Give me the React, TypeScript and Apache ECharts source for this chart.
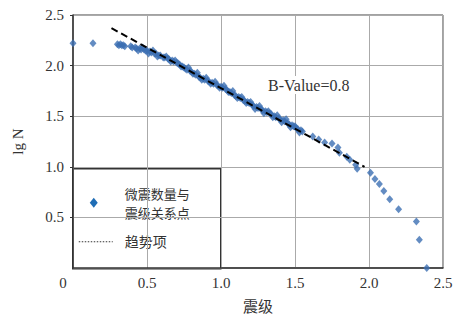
import React, { useEffect, useRef } from "react";
import * as echarts from "echarts";

// magnitude (震级) and lg N of micro-seismic points
const magnitudes: number[] = [
  0.0, 0.135,
  0.30, 0.31, 0.32, 0.33, 0.34, 0.35,
  0.39, 0.40, 0.42, 0.43, 0.45, 0.46, 0.48, 0.49, 0.50, 0.52, 0.53, 0.55,
  0.56, 0.58, 0.59, 0.61, 0.62, 0.64, 0.65, 0.67, 0.68, 0.70, 0.71, 0.72,
  0.74, 0.75, 0.76, 0.77, 0.79, 0.80, 0.82, 0.83, 0.85, 0.86, 0.88, 0.89,
  0.91, 0.92, 0.94, 0.95, 0.97, 0.98, 1.00, 1.01, 1.03, 1.04, 1.06, 1.07,
  1.09, 1.10, 1.12, 1.13, 1.15, 1.16, 1.18, 1.19, 1.21, 1.22, 1.24, 1.25,
  1.27, 1.28, 1.30, 1.31, 1.33, 1.34, 1.36, 1.37, 1.39, 1.40, 1.42, 1.43,
  1.45, 1.46, 1.48, 1.49, 1.51, 1.52, 1.54, 1.55,
  0.44, 0.51, 0.57, 0.66, 0.73, 0.81, 0.87, 0.93, 0.99, 1.05, 1.11, 1.17,
  1.23, 1.29, 1.35, 1.41, 1.47, 1.53,
  0.47, 0.54, 0.63, 0.69, 0.78, 0.84, 0.90, 0.96, 1.02, 1.08, 1.14, 1.20,
  1.26, 1.32, 1.38, 1.44, 1.50,
  1.62, 1.66, 1.70, 1.75, 1.79, 1.80, 1.85, 1.87, 1.91, 1.92,
  2.01, 2.04, 2.07, 2.10, 2.14, 2.20, 2.32, 2.34, 2.39,
];
const lgN: number[] = [
  2.22, 2.22,
  2.21, 2.20, 2.21, 2.20, 2.20, 2.19,
  2.19, 2.18, 2.18, 2.17, 2.17, 2.16, 2.16, 2.15, 2.15, 2.14, 2.13, 2.12,
  2.12, 2.10, 2.10, 2.08, 2.08, 2.07, 2.06, 2.05, 2.04, 2.03, 2.02, 2.01,
  1.99, 1.98, 1.97, 1.96, 1.95, 1.94, 1.92, 1.91, 1.89, 1.88, 1.87, 1.86,
  1.85, 1.84, 1.83, 1.82, 1.81, 1.80, 1.79, 1.78, 1.77, 1.76, 1.74, 1.73,
  1.71, 1.70, 1.69, 1.68, 1.66, 1.65, 1.64, 1.63, 1.61, 1.60, 1.59, 1.58,
  1.57, 1.56, 1.55, 1.54, 1.53, 1.52, 1.50, 1.49, 1.48, 1.47, 1.46, 1.45,
  1.43, 1.42, 1.41, 1.40, 1.38, 1.37, 1.36, 1.35,
  2.15, 2.12, 2.09, 2.04, 1.99, 1.92, 1.86, 1.82, 1.78, 1.74, 1.68, 1.63,
  1.57, 1.53, 1.49, 1.44, 1.39, 1.34,
  2.18, 2.15, 2.09, 2.05, 1.98, 1.93, 1.88, 1.84, 1.80, 1.75, 1.69, 1.64,
  1.60, 1.55, 1.51, 1.47, 1.40,
  1.30, 1.27, 1.24, 1.23, 1.19, 1.14, 1.10, 1.07, 1.02, 0.98,
  0.94, 0.88, 0.83, 0.76, 0.68, 0.58, 0.46, 0.28, 0.00,
];

// trend line (趋势项)
const trendX: number[] = [0.26, 1.97];
const trendY: number[] = [2.37, 1.0];

const xTicks = { min: 0, max: 2.5, interval: 0.5 };
const yTicks = { min: 0, max: 2.5, interval: 0.5 };

const annotation = "B-Value=0.8";
const legendPointsLine1 = "微震数量与";
const legendPointsLine2 = "震级关系点";
const legendTrend = "趋势项";
const xName = "震级";
const yName = "lg N";

const SERIF = "serif";
const CJK = "Noto Sans CJK SC";

export default function App() {
  const ref = useRef<HTMLDivElement>(null);
  useEffect(() => {
    if (!ref.current) return;
    const chart = echarts.init(ref.current, undefined, { renderer: "svg" });
    const scatterData = magnitudes.map((m, i) => [m, lgN[i]]);
    const trendData = trendX.map((m, i) => [m, trendY[i]]);
    chart.setOption({
      animation: false,
      backgroundColor: "#fff",
      grid: {
        left: 73,
        right: 13,
        top: 15,
        bottom: 54,
        show: true,
        borderColor: "#444",
        borderWidth: 1,
      },
      xAxis: {
        type: "value",
        min: xTicks.min,
        max: xTicks.max,
        interval: xTicks.interval,
        name: xName,
        nameLocation: "middle",
        nameGap: 30,
        nameTextStyle: { fontFamily: CJK, fontSize: 15, color: "#333" },
        axisLine: { show: true, lineStyle: { color: "#333", width: 1.5 } },
        axisTick: { show: false },
        splitLine: { show: true, lineStyle: { color: "#aaa", width: 1 } },
        axisLabel: {
          fontFamily: SERIF,
          fontSize: 15,
          color: "#333",
          margin: 7,
          formatter: (v: number) => (v === 0 ? "{z|0}" : v.toFixed(1)),
          rich: {
            z: { fontFamily: SERIF, fontSize: 15, color: "#333", padding: [0, 20, 0, 0] },
          },
        },
      },
      yAxis: {
        type: "value",
        min: yTicks.min,
        max: yTicks.max,
        interval: yTicks.interval,
        name: yName,
        nameLocation: "middle",
        nameGap: 48,
        nameRotate: 90,
        nameTextStyle: { fontFamily: SERIF, fontSize: 15, color: "#333" },
        axisLine: { show: true, lineStyle: { color: "#333", width: 1.5 } },
        axisTick: { show: true, length: 3, lineStyle: { color: "#333" } },
        splitLine: { show: true, lineStyle: { color: "#aaa", width: 1 } },
        axisLabel: {
          fontFamily: SERIF,
          fontSize: 15,
          color: "#333",
          margin: 9,
          showMinLabel: false,
          formatter: (v: number) => v.toFixed(1),
        },
      },
      series: [
        {
          type: "scatter",
          name: "points",
          data: scatterData,
          symbol: "diamond",
          symbolSize: [7, 8],
          itemStyle: { color: "#3c6fb3" },
          clip: false,
          z: 3,
        },
        {
          type: "line",
          name: "trend",
          data: trendData,
          showSymbol: false,
          symbol: "none",
          lineStyle: { color: "#000", width: 2, type: [7, 4] },
          z: 4,
        },
      ],
      graphic: [
        {
          type: "text",
          left: 266,
          top: 76,
          z: 50,
          style: {
            text: annotation,
            fontFamily: SERIF,
            fontSize: 16,
            fill: "#333",
            backgroundColor: "#fff",
            padding: [1, 2],
          },
        },
        {
          type: "group",
          left: 72,
          top: 168,
          z: 100,
          children: [
            {
              type: "rect",
              shape: { x: 0, y: 0, width: 148, height: 100 },
              style: { fill: "#fff", stroke: "#333", lineWidth: 1.5 },
            },
            {
              type: "polygon",
              shape: { points: [[21, 29], [25, 34], [21, 39], [17, 34]] },
              style: { fill: "#1f6db5" },
            },
            {
              type: "text",
              x: 52,
              y: 18,
              style: { text: legendPointsLine1, fontFamily: CJK, fontSize: 13, fill: "#333" },
            },
            {
              type: "text",
              x: 52,
              y: 37,
              style: { text: legendPointsLine2, fontFamily: CJK, fontSize: 13, fill: "#333" },
            },
            {
              type: "line",
              shape: { x1: 6, y1: 73, x2: 40, y2: 73 },
              style: { stroke: "#333", lineWidth: 1, lineDash: [1.5, 1.5] },
            },
            {
              type: "text",
              x: 52,
              y: 65,
              style: { text: legendTrend, fontFamily: CJK, fontSize: 14, fill: "#333" },
            },
          ],
        },
      ],
    });
    return () => chart.dispose();
  }, []);
  return (
    <div
      ref={ref}
      style={{ position: "fixed", left: 0, top: 0, width: 456, height: 322 }}
    />
  );
}
